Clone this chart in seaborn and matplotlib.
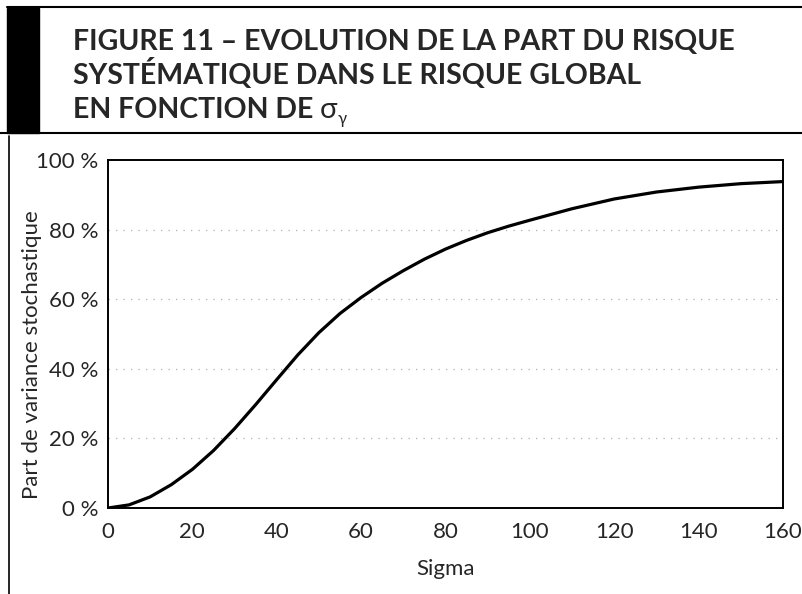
import matplotlib
matplotlib.use("Agg")
import matplotlib.pyplot as plt
from matplotlib.lines import Line2D
from matplotlib.patches import Rectangle
import seaborn as sns
import pandas as pd

# valeurs
sigma = [0, 5, 10, 15, 20, 25, 30, 35, 40, 45, 50, 55, 60, 65, 70, 75, 80,
         85, 90, 95, 100, 110, 120, 130, 140, 150, 160]
part = [0, 0.9, 3.2, 6.7, 11.1, 16.5, 22.8, 29.7, 36.9, 44.0, 50.4, 55.9,
        60.5, 64.6, 68.2, 71.5, 74.4, 76.9, 79.1, 81.0, 82.7, 86.0, 88.8,
        90.8, 92.2, 93.2, 93.8]
xticks = [0, 20, 40, 60, 80, 100, 120, 140, 160]
yticks = [0, 20, 40, 60, 80, 100]
ylabels = [f"{v} %" for v in yticks]

df = pd.DataFrame({"Sigma": sigma, "Part": part})

sns.set_style("white")
plt.rcParams["font.family"] = ["Lato", "DejaVu Sans"]

W, H = 803, 594
fig = plt.figure(figsize=(W / 100, H / 100), dpi=100)
ax = fig.add_axes([108 / W, 1 - 508 / H, (783 - 108) / W, (508 - 160) / H])

sns.lineplot(data=df, x="Sigma", y="Part", color="black", linewidth=2.3, ax=ax)

ax.set_xlim(0, 160)
ax.set_ylim(0, 100)
ax.set_xticks(xticks)
ax.set_yticks(yticks)
ax.set_yticklabels(ylabels)
ax.tick_params(axis="both", length=0, labelsize=16)
ax.tick_params(axis="x", pad=10)
ax.tick_params(axis="y", pad=7)
ax.set_xlabel("Sigma", fontsize=16, labelpad=12)
ax.set_ylabel("Part de variance stochastique", fontsize=16, va="center")
ax.yaxis.set_label_coords(-0.113, 0.44)
for v in yticks[1:-1]:
    ax.axhline(v, color="#b0b0b0", linewidth=0.9, linestyle=(0, (1, 5)), zorder=0)
for s in ax.spines.values():
    s.set_color("black")
    s.set_linewidth(1.4)

# cadre du titre
fig.add_artist(Rectangle((7 / W, 1 - 133 / H), 32 / W, 125 / H,
                         transform=fig.transFigure, color="black"))
fig.add_artist(Line2D([7 / W, 1], [1 - 7 / H, 1 - 7 / H], color="black",
                      linewidth=1.5, transform=fig.transFigure))
fig.add_artist(Line2D([0, 1], [1 - 133 / H, 1 - 133 / H], color="black",
                      linewidth=1.5, transform=fig.transFigure))
fig.add_artist(Line2D([9 / W, 9 / W], [0, 1 - 136 / H], color="black",
                      linewidth=1.2, transform=fig.transFigure))

tkw = dict(fontsize=20.5, fontweight="bold", va="baseline", ha="left")
fig.text(73 / W, 1 - 50 / H, "FIGURE 11 – EVOLUTION DE LA PART DU RISQUE", **tkw)
fig.text(73 / W, 1 - 84 / H, "SYSTÉMATIQUE DANS LE RISQUE GLOBAL", **tkw)
t3 = fig.text(73 / W, 1 - 118 / H, "EN FONCTION DE ", **tkw)
r = fig.canvas.get_renderer()
x3 = t3.get_window_extent(r).x1 / W
t4 = fig.text(x3, 1 - 118 / H, "σ", fontsize=21, va="baseline", ha="left")
x4 = t4.get_window_extent(r).x1 / W
fig.text(x4, 1 - 124 / H, "γ", fontsize=12, va="baseline", ha="left")

fig.savefig("out.png", dpi=100)
